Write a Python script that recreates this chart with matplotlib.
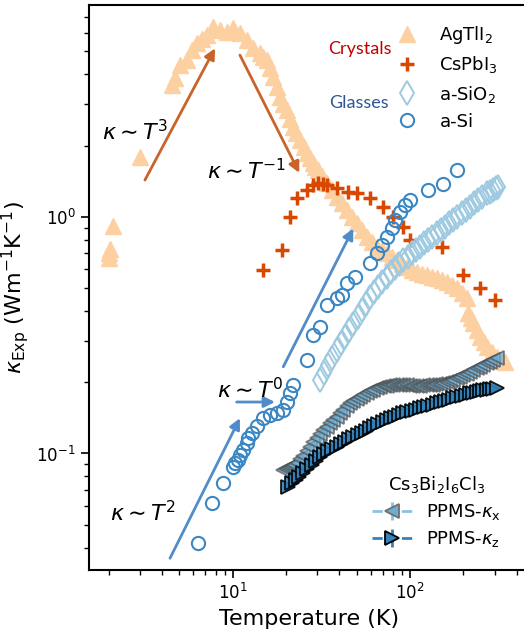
import numpy as np
import matplotlib.pyplot as plt

plt.rcParams['font.family'] = 'DejaVu Sans'
plt.rcParams['axes.linewidth'] = 1.5

# AgTlI2 (crystal)
agtli2_T = [2.0, 2.0, 2.02, 2.1, 3.0, 4.55, 4.73, 5.05, 5.52, 5.89,
            6.29, 6.71, 7.16, 7.74, 8.48, 9.29, 10.04, 11.0, 12.04, 13.02,
            14.26, 14.9, 15.61, 16.2, 16.88, 17.7, 18.49, 19.3, 20.25, 21.0,
            21.88, 22.9, 23.97, 25.1, 26.25, 27.3, 28.37, 29.3, 30.28, 32.1,
            34.0, 36.3, 38.7, 41.3, 44.1, 47.0, 50.2, 53.6, 57.2, 61.0,
            65.1, 69.5, 74.2, 79.2, 84.5, 90.2, 96.2, 102.6, 109.5, 116.9,
            124.7, 133.1, 142.0, 151.5, 161.7, 172.5, 184.1, 196.5, 209.7, 213.3,
            219.9, 226.7, 237.3, 248.3, 259.8, 271.9, 290.1, 309.6, 326.1, 343.4]
agtli2_k = [0.70, 0.67, 0.73, 0.91, 1.79, 3.60, 3.85, 4.37, 4.59, 5.06,
            5.42, 5.63, 5.86, 6.34, 6.15, 6.03, 6.27, 5.97, 5.58, 5.17,
            4.92, 4.75, 4.59, 4.25, 3.89, 3.53, 3.20, 3.0, 2.82, 2.6,
            2.39, 2.25, 2.11, 1.98, 1.86, 1.77, 1.69, 1.63, 1.57, 1.48,
            1.39, 1.30, 1.21, 1.14, 1.07, 1.00, 0.94, 0.88, 0.82, 0.78,
            0.745, 0.724, 0.703, 0.679, 0.656, 0.634, 0.613, 0.598, 0.584, 0.575,
            0.567, 0.559, 0.551, 0.540, 0.530, 0.515, 0.500, 0.476, 0.453, 0.392,
            0.374, 0.356, 0.332, 0.310, 0.295, 0.281, 0.268, 0.255, 0.249, 0.243]

# CsPbI3 (crystal)
cspbi3_T = [14.88, 18.90, 21.05, 22.96, 26.15, 28.49, 30.41, 32.31, 33.89, 38.60, 44.87, 50.05,
            59.48, 70.71, 80.5, 91.7, 100.0, 151.0, 199.8, 248.3, 301.6]
cspbi3_k = [0.596, 0.723, 1.00, 1.196, 1.297, 1.361, 1.384, 1.37, 1.361, 1.318, 1.275, 1.256,
            1.196, 1.102, 1.00, 0.907, 0.797, 0.747, 0.567, 0.498, 0.445]

# a-SiO2 (glass)
sio2_T = [31.07, 32.7, 34.47, 36.5, 38.60, 40.7, 42.99, 45.4, 47.88, 50.7,
          53.61, 56.5, 59.48, 62.6, 65.99, 69.8, 73.89, 78.0, 82.3, 86.9,
          91.7, 97.0, 102.2, 107.9, 113.9, 120.0, 126.4, 133.7, 141.4, 150.0,
          157.6, 166.3, 175.5, 185.3, 195.7, 206.5, 218.0, 229.6, 241.8, 255.8,
          270.7, 282.0, 293.8, 304.1, 314.8]
sio2_k = [0.204, 0.219, 0.236, 0.254, 0.273, 0.292, 0.312, 0.333, 0.354, 0.378,
          0.403, 0.430, 0.459, 0.482, 0.507, 0.532, 0.558, 0.582, 0.607, 0.631,
          0.656, 0.679, 0.703, 0.725, 0.747, 0.772, 0.797, 0.824, 0.851, 0.880,
          0.909, 0.938, 0.968, 1.002, 1.037, 1.069, 1.102, 1.139, 1.176, 1.215,
          1.256, 1.276, 1.297, 1.318, 1.339]

# a-Si (glass)
asi_T = [6.40, 7.61, 8.85, 10.08, 10.30, 10.75, 10.99, 11.48, 12.00, 12.25, 12.80, 13.66, 14.88,
         16.23, 17.70, 19.29, 20.17, 21.05, 21.97, 26.15, 28.49, 31.07, 33.89, 38.60, 41.19, 43.95,
         48.95, 59.48, 64.91, 69.23, 73.89, 78.85, 82.31, 87.8, 93.7, 100.0, 126.9, 154.1, 183.4]
asi_k = [0.0417, 0.0615, 0.0747, 0.0879, 0.0908, 0.0938, 0.0984, 0.1034, 0.1106, 0.1161, 0.1219,
         0.1305, 0.1407, 0.1453, 0.1477, 0.1526, 0.1654, 0.1795, 0.1945, 0.248, 0.316, 0.343, 0.424,
         0.452, 0.467, 0.523, 0.558, 0.636, 0.700, 0.759, 0.823, 0.893, 0.968, 1.05, 1.12, 1.18,
         1.30, 1.38, 1.575]

# Cs3Bi2I6Cl3 PPMS kappa_x
kx_T = [19.29, 19.9, 20.5, 21.0, 21.5, 22.2, 22.96, 24.0, 25.0, 26.1,
        27.29, 28.5, 29.7, 31.0, 32.43, 33.9, 35.4, 37.0, 38.60, 40.3,
        42.0, 43.9, 45.86, 47.9, 50.0, 52.2, 54.52, 57.0, 59.5, 62.1,
        64.91, 67.9, 71.0, 74.0, 77.14, 80.5, 84.0, 87.7, 91.66, 95.7,
        100.0, 104.4, 109.1, 114.0, 119.0, 124.2, 129.7, 135.2, 141.0, 147.4,
        154.1, 160.9, 168.0, 175.5, 183.4, 191.5, 200.0, 208.8, 218.0, 227.8,
        238.0, 248.3, 259.0, 270.7, 283.0, 295.4, 308.3]
kx_k = [0.0851, 0.0860, 0.0870, 0.0878, 0.0885, 0.0896, 0.0908, 0.0944, 0.098, 0.1023,
        0.1067, 0.1113, 0.116, 0.1208, 0.1256, 0.1298, 0.134, 0.1384, 0.1429, 0.1478,
        0.153, 0.1580, 0.1628, 0.1665, 0.170, 0.1733, 0.1765, 0.1797, 0.183, 0.1857,
        0.1884, 0.1902, 0.192, 0.1933, 0.1945, 0.1945, 0.1945, 0.1945, 0.1945, 0.1938,
        0.193, 0.1928, 0.1926, 0.1933, 0.194, 0.1943, 0.1945, 0.1952, 0.196, 0.1969,
        0.1978, 0.1999, 0.202, 0.2048, 0.2077, 0.2108, 0.214, 0.2177, 0.2215, 0.2252,
        0.229, 0.2326, 0.2363, 0.2401, 0.244, 0.2481, 0.2522]

# Cs3Bi2I6Cl3 PPMS kappa_z
kz_T = [20.59, 21.6, 22.7, 23.8, 25.01, 26.4, 27.9, 29.4, 31.07, 32.8,
        34.6, 36.5, 38.60, 40.7, 43.0, 45.4, 47.88, 50.6, 53.4, 56.4,
        59.48, 62.8, 66.3, 70.0, 73.89, 78.0, 82.3, 86.9, 91.66, 96.7,
        102.0, 107.8, 113.9, 120.3, 127.0, 134.0, 141.4, 149.3, 157.6, 166.3,
        175.5, 185.3, 195.7, 206.5, 218.0, 227.8, 238.0, 248.3, 259.0, 270.7,
        283.0, 295.4, 308.3]
kz_k = [0.0723, 0.0749, 0.0775, 0.0799, 0.0824, 0.0857, 0.089, 0.0929, 0.0968, 0.0994,
        0.102, 0.1043, 0.1067, 0.1093, 0.112, 0.1148, 0.1176, 0.1200, 0.1225, 0.1250,
        0.1276, 0.1303, 0.133, 0.1357, 0.1384, 0.1407, 0.143, 0.1453, 0.1477, 0.1496,
        0.1515, 0.1533, 0.1551, 0.1570, 0.159, 0.1609, 0.1628, 0.1646, 0.1665, 0.1687,
        0.1709, 0.1729, 0.175, 0.1772, 0.1795, 0.1810, 0.1825, 0.1839, 0.1853, 0.1861,
        0.187, 0.1877, 0.1884]

peach = '#fdd0a2'
red_orange = '#d94801'
light_blue = '#9ecae1'
mid_blue = '#3a87c4'
arrow_orange = '#c8642a'
arrow_blue = '#4f8cc9'

fig = plt.figure(figsize=(5.24, 6.39), dpi=100)
ax = fig.add_axes([0.1698, 0.108, 0.8416, 0.884])

ax.plot(agtli2_T, agtli2_k, ls='none', marker='^', ms=11, color=peach, mec=peach, label=r'AgTlI$_2$')
ax.plot(cspbi3_T, cspbi3_k, ls='none', marker='+', ms=10, mew=2.5, color=red_orange, label=r'CsPbI$_3$')
ax.plot(sio2_T, sio2_k, ls='none', marker='d', ms=12, mew=1.4, mfc='none', mec=light_blue, label=r'a-SiO$_2$')
ax.plot(asi_T, asi_k, ls='none', marker='o', ms=9.5, mew=1.5, mfc='none', mec=mid_blue, label='a-Si')

ax.plot(kx_T, kx_k, ls='none', marker='<', ms=10, mfc='#6baed6', mec='#505050', mew=1.3, alpha=0.7)
ax.plot(kz_T, kz_k, ls='none', marker='>', ms=10, mfc='#3182bd', mec='black', mew=1.3, alpha=0.9)

ax.set_xscale('log')
ax.set_yscale('log')
ax.set_xlim(1.547, 475)
ax.set_ylim(0.0322, 7.84)

# arrows with scaling laws
def arrow(start, end, color):
    ax.annotate('', xy=end, xytext=start,
                arrowprops=dict(arrowstyle='-|>', lw=2, color=color, mutation_scale=16,
                                shrinkA=0, shrinkB=0))

arrow((3.20, 1.43), (7.95, 5.15), arrow_orange)
arrow((10.99, 4.82), (23.75, 1.534), arrow_orange)
arrow((4.43, 0.0361), (10.99, 0.141), arrow_blue)
arrow((10.53, 0.165), (17.32, 0.165), arrow_blue)
arrow((19.29, 0.2324), (47.88, 0.893), arrow_blue)

ax.text(1.83, 2.30, r'$\kappa\sim T^3$', fontsize=16, va='center', ha='left')
ax.text(7.16, 1.575, r'$\kappa\sim T^{-1}$', fontsize=16, va='center', ha='left')
ax.text(8.16, 0.187, r'$\kappa\sim T^0$', fontsize=16, va='center', ha='left')
ax.text(2.03, 0.0565, r'$\kappa\sim T^2$', fontsize=16, va='center', ha='left')

ax.text(34.47, 5.11, 'Crystals', color='#c00000', fontsize=13, family='Lato', va='center', ha='left')
ax.text(34.9, 3.02, 'Glasses', color='#2f5597', fontsize=13, family='Lato', va='center', ha='left')

leg1 = ax.legend(loc='upper left', bbox_to_anchor=(0.68, 0.966), frameon=False, fontsize=13,
                 borderpad=0, borderaxespad=0, labelspacing=0.45, handlelength=2.0,
                 handletextpad=0.8, numpoints=1)
ax.add_artist(leg1)

# legend proxies for the Cs3Bi2I6Cl3 data
hx = ax.errorbar([np.nan], [np.nan], yerr=[np.nan], fmt='--<', color='#8fbfe0', ms=10,
                 mfc='#6baed6', mec='#707070', mew=1.3, lw=2)
hz = ax.errorbar([np.nan], [np.nan], yerr=[np.nan], fmt='-->', color='#3182bd', ms=10,
                 mfc='#3182bd', mec='black', mew=1.3, lw=2)
leg2 = ax.legend([hx, hz], [r'PPMS-$\kappa_{\rm x}$', r'PPMS-$\kappa_{\rm z}$'],
                 title=r'Cs$_3$Bi$_2$I$_6$Cl$_3$', title_fontsize=13, fontsize=13,
                 loc='lower left', bbox_to_anchor=(0.642, 0.037), frameon=False,
                 borderpad=0, borderaxespad=0, labelspacing=0.4, handlelength=2.2,
                 handletextpad=0.8)

ax.set_xlabel('Temperature (K)', fontsize=16)
ax.set_ylabel(r'$\kappa_{\mathrm{Exp}}$ (Wm$^{-1}$K$^{-1}$)', fontsize=16)
ax.tick_params(which='major', length=6, width=1.2, labelsize=12)
ax.tick_params(which='minor', length=3.5, width=1)

fig.savefig('out.png', dpi=100)
